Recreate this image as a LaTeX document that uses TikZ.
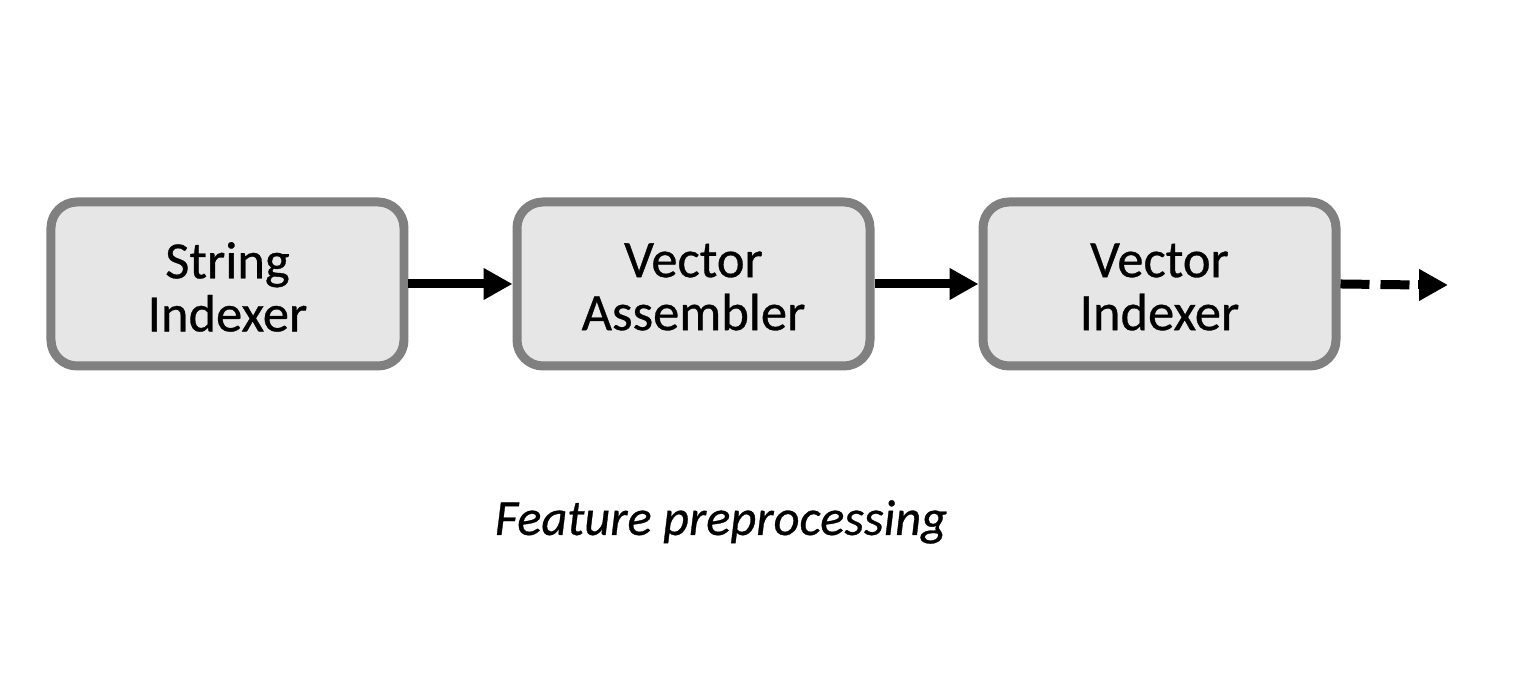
\documentclass[tikz,border=0pt]{standalone}
\usepackage{fontspec}
\setmainfont{Carlito}[FakeBold=0.6]
\usetikzlibrary{arrows.meta}
\definecolor{boxfill}{HTML}{E6E6E6}
\definecolor{boxline}{HTML}{808080}
\tikzset{
  stage/.style={draw=boxline, line width=0.09cm, fill=boxfill, rounded corners=0.26cm,
    minimum width=3.53cm, minimum height=1.64cm, inner sep=0pt},
  stagetext/.style={font=\fontsize{14.95pt}{15.1pt}\selectfont, align=center, inner sep=0pt},
  flow/.style={line width=0.09cm, -{Triangle[length=0.29cm,width=0.3cm]}},
  dashflow/.style={line width=0.09cm, dash pattern=on 0.29cm off 0.11cm},
}
\begin{document}
\begin{tikzpicture}
\useasboundingbox (0,0) rectangle (15.4,6.94);
\node[stage] (si) at (2.275,4.10) {};
\node[stage] (va) at (6.935,4.10) {};
\node[stage] (vi) at (11.595,4.10) {};
\node[stagetext] (sit) at (2.275,4.07) {String\\Indexer};
\node[stagetext] (vat) at (6.935,4.07) {Vector\\Assembler};
\node[stagetext] (vit) at (11.595,4.07) {Vector\\Indexer};
\coordinate (tipbase) at (14.18,4.09);
\coordinate (out) at (14.48,4.09);
\draw[flow] (si.east) -- (va.west);
\draw[flow] (va.east) -- (vi.west);
\draw[dashflow] (vi.east) -- (tipbase);
\draw[flow] (tipbase) -- (out);
\node[font=\fontsize{14.36pt}{15pt}\selectfont\itshape, anchor=base] (cap) at (7.21,1.59) {Feature preprocessing};
\end{tikzpicture}
\end{document}
